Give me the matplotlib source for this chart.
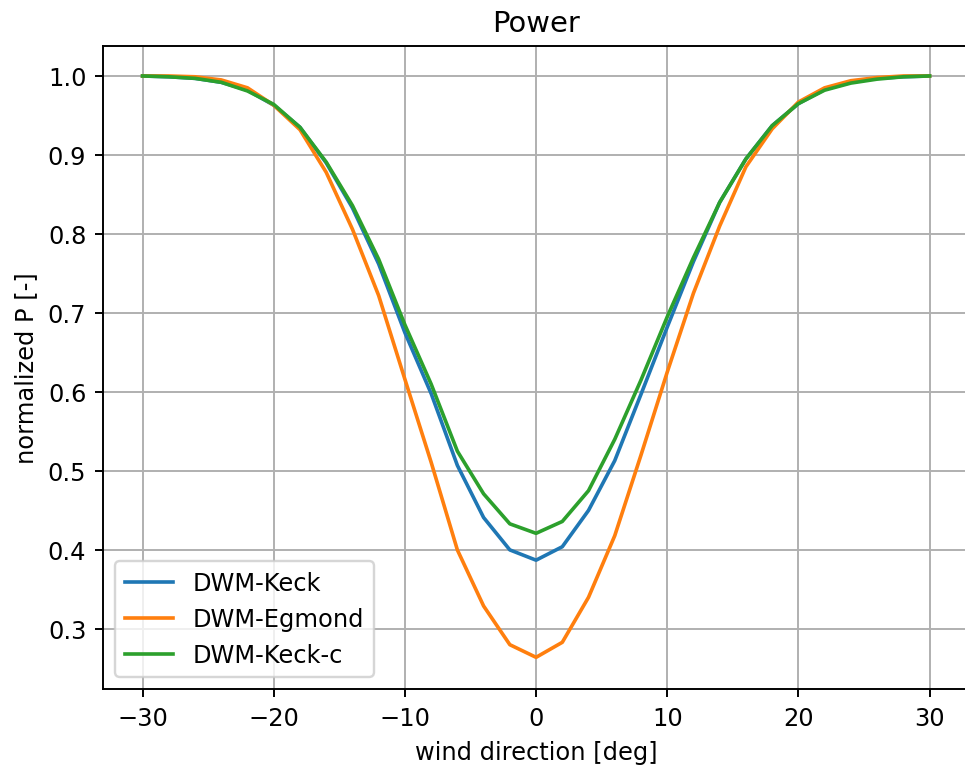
import numpy as np
import matplotlib
matplotlib.use('Agg')
import matplotlib.pyplot as plt

# wind direction [deg]
wd = np.arange(-30, 31, 2)

keck = [1.000, 0.999, 0.997, 0.992, 0.982, 0.963, 0.935, 0.890, 0.833, 0.762,
        0.675, 0.598, 0.507, 0.441, 0.400, 0.387, 0.404, 0.450, 0.513, 0.597,
        0.682, 0.765, 0.840, 0.895, 0.937, 0.965, 0.983, 0.992, 0.997, 0.999, 1.000]
egmond = [1.000, 1.000, 0.999, 0.995, 0.985, 0.963, 0.932, 0.878, 0.806, 0.722,
          0.616, 0.511, 0.400, 0.329, 0.280, 0.264, 0.283, 0.340, 0.418, 0.520,
          0.625, 0.725, 0.810, 0.885, 0.933, 0.967, 0.985, 0.994, 0.998, 1.000, 1.000]
keck_c = [1.000, 0.999, 0.997, 0.992, 0.981, 0.964, 0.935, 0.891, 0.836, 0.768,
          0.685, 0.610, 0.525, 0.471, 0.433, 0.421, 0.436, 0.475, 0.540, 0.615,
          0.695, 0.770, 0.840, 0.895, 0.937, 0.965, 0.982, 0.991, 0.996, 0.999, 1.000]

dpi = 174
fig = plt.figure(figsize=(965 / dpi, 770 / dpi), dpi=dpi)
# right spine falls just outside the picture, as in the reference
ax = fig.add_axes([0.107, 0.104, 0.897, 0.835])

ax.plot(wd, keck, label='DWM-Keck')
ax.plot(wd, egmond, label='DWM-Egmond')
ax.plot(wd, keck_c, label='DWM-Keck-c')

ax.set_xlim(-33, 33)
ax.set_ylim(0.224, 1.038)
ax.grid(True)
ax.set_title('Power')
ax.set_xlabel('wind direction [deg]')
ax.set_ylabel('normalized P [-]')
ax.legend(loc='lower left')

fig.savefig('out.png', dpi=dpi)
